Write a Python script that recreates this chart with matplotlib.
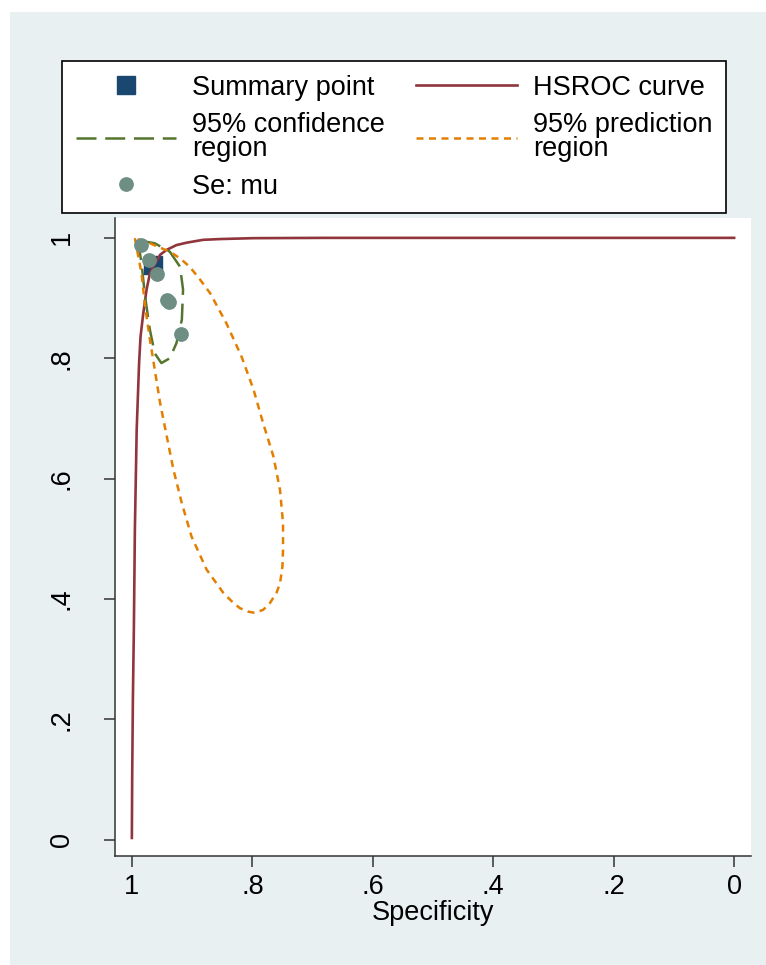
import matplotlib
matplotlib.use("Agg")
import matplotlib.pyplot as plt
from matplotlib.patches import Rectangle

plt.rcParams['font.family'] = ['Liberation Sans', 'DejaVu Sans']

# study points (specificity, sensitivity)
study_spec = [0.9856, 0.971, 0.959, 0.941, 0.938, 0.919]
study_sens = [0.988, 0.964, 0.940, 0.897, 0.894, 0.840]

# summary point
summ_spec = [0.965]
summ_sens = [0.955]

# HSROC curve
hsroc_spec = [1.000, 0.9995, 0.9983, 0.9967, 0.9955, 0.995, 0.992, 0.988, 0.9856,
              0.981, 0.9756, 0.970, 0.9646, 0.953, 0.9424, 0.926, 0.909, 0.882,
              0.854, 0.798, 0.680, 0.000]
hsroc_sens = [0.003, 0.100, 0.233, 0.349, 0.465, 0.515, 0.681, 0.792, 0.836,
              0.875, 0.914, 0.941, 0.952, 0.972, 0.980, 0.988, 0.992, 0.9967,
              0.998, 0.9995, 1.000, 1.000]

# 95% confidence region
conf_spec = [0.990, 0.984, 0.978, 0.970, 0.962, 0.951, 0.937, 0.926, 0.917,
             0.915, 0.920, 0.937, 0.962, 0.990]
conf_sens = [0.996, 0.958, 0.902, 0.847, 0.808, 0.792, 0.800, 0.825, 0.864,
             0.914, 0.952, 0.977, 0.991, 0.996]

# 95% prediction region
pred_spec = [0.995, 0.984, 0.978, 0.970, 0.962, 0.953, 0.942, 0.931, 0.917,
             0.901, 0.876, 0.848, 0.834, 0.821, 0.807, 0.796, 0.782, 0.771,
             0.760, 0.754, 0.750, 0.749, 0.749, 0.754, 0.765, 0.782, 0.798,
             0.818, 0.843, 0.870, 0.887, 0.904, 0.920, 0.937, 0.970, 0.995]
pred_sens = [0.9995, 0.941, 0.886, 0.831, 0.781, 0.725, 0.670, 0.615, 0.559,
             0.504, 0.449, 0.410, 0.396, 0.385, 0.379, 0.377, 0.382, 0.393,
             0.410, 0.426, 0.454, 0.482, 0.526, 0.581, 0.637, 0.692, 0.748,
             0.803, 0.858, 0.908, 0.931, 0.952, 0.966, 0.977, 0.991, 0.9995]

ticks = [0, 0.2, 0.4, 0.6, 0.8, 1]
tick_labels = ['0', '.2', '.4', '.6', '.8', '1']

navy = '#1a476f'
maroon = '#90353b'
green = '#55752f'
orange = '#e37e00'
teal = '#6e8e84'
bg = '#e8f0f2'

W, H = 766, 965
fig = plt.figure(figsize=(W / 100, H / 100), dpi=100)
fig.patch.set_facecolor('white')
fig.patches.append(Rectangle((10 / W, 0), 1 - 10 / W, 1 - 12 / H,
                             transform=fig.transFigure, facecolor=bg,
                             edgecolor='none', zorder=-10))

ax = fig.add_axes([115 / W, 1 - 856 / H, (751 - 115) / W, (856 - 218) / H])
ax.set_facecolor('white')

h_sum, = ax.plot(summ_spec, summ_sens, linestyle='none', marker='s',
                 markersize=13.5, color=navy, zorder=2, label='Summary point')
h_curve, = ax.plot(hsroc_spec, hsroc_sens, color=maroon, lw=1.9, zorder=3,
                   label='HSROC curve')
h_conf, = ax.plot(conf_spec, conf_sens, color=green, lw=1.8,
                  dashes=(8, 3.5), zorder=4, label='95% confidence\nregion')
h_pred, = ax.plot(pred_spec, pred_sens, color=orange, lw=1.8,
                  dashes=(2.8, 2.2), zorder=4, label='95% prediction\nregion')
h_pts, = ax.plot(study_spec, study_sens, linestyle='none', marker='o',
                 markersize=9.6, color=teal, zorder=5, label='Se: mu')

ax.set_xlim(1.028, -0.028)
ax.set_ylim(-0.027, 1.033)
ax.set_xticks(ticks)
ax.set_xticklabels(tick_labels)
ax.set_yticks(ticks)
ax.set_yticklabels(tick_labels, rotation=90, va='center')
ax.tick_params(axis='both', length=8, width=1.1, color='#333333',
               labelsize=19.5, pad=5)
ax.tick_params(axis='y', pad=21)
ax.set_xlabel('Specificity', fontsize=19.5, labelpad=0)

for side in ['top', 'right']:
    ax.spines[side].set_visible(False)
for side in ['left', 'bottom']:
    ax.spines[side].set_color('#333333')
    ax.spines[side].set_linewidth(1.1)

handles = [h_sum, h_conf, h_pts, h_curve, h_pred]
leg = fig.legend(handles=handles, ncol=2, loc='upper left',
                 bbox_to_anchor=(62 / W, 1 - 61 / H - 0.01, (726 - 62) / W, 0.01),
                 mode='expand', borderaxespad=0, fontsize=19.5,
                 handlelength=3.7, handletextpad=0.6, numpoints=1,
                 labelspacing=0.42, borderpad=0.5, fancybox=False,
                 framealpha=1, edgecolor='black')
leg.get_frame().set_linewidth(1.2)
for t in leg.get_texts():
    t.set_linespacing(0.92)

fig.savefig('out.png', dpi=100, facecolor=fig.get_facecolor())
